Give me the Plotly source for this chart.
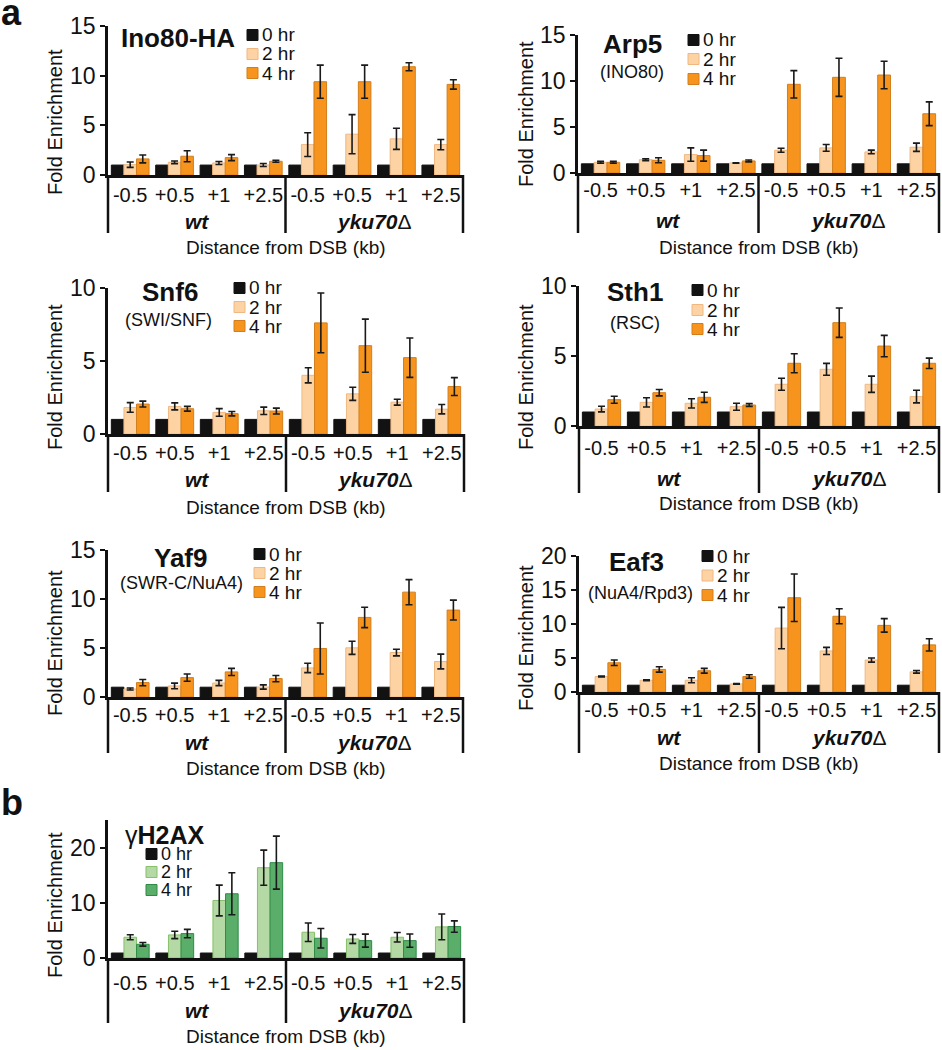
import plotly.graph_objects as go

W, H = 942, 1050
FONT = "Liberation Sans, Arial, Helvetica, sans-serif"
INK = "#111111"

# ---------------- data ----------------
categories = ["-0.5", "+0.5", "+1", "+2.5", "-0.5", "+0.5", "+1", "+2.5"]
category_strain = ["wt", "wt", "wt", "wt", "yku70Δ", "yku70Δ", "yku70Δ", "yku70Δ"]
strain_names = ["wt", "yku70Δ"]
time_labels = ["0 hr", "2 hr", "4 hr"]
x_title = "Distance from DSB (kb)"
y_title = "Fold Enrichment"

ino80_0hr = [1, 1, 1, 1, 1, 1, 1, 1]
ino80_2hr = [1.04, 1.28, 1.21, 1.01, 3.06, 4.11, 3.64, 3.06]
ino80_2hr_err = [0.27, 0.13, 0.15, 0.15, 1.2, 1.97, 1.06, 0.52]
ino80_4hr = [1.62, 1.89, 1.75, 1.38, 9.39, 9.39, 10.9, 9.12]
ino80_4hr_err = [0.4, 0.55, 0.3, 0.1, 1.67, 1.67, 0.4, 0.47]

arp5_0hr = [1, 1, 1, 1, 1, 1, 1, 1]
arp5_2hr = [1.16, 1.45, 2.0, 1.09, 2.47, 2.73, 2.29, 2.8]
arp5_2hr_err = [0.1, 0.1, 0.73, 0.03, 0.22, 0.36, 0.2, 0.45]
arp5_4hr = [1.16, 1.38, 1.89, 1.31, 9.64, 10.4, 10.65, 6.44]
arp5_4hr_err = [0.1, 0.27, 0.6, 0.1, 1.49, 2.07, 1.49, 1.29]

snf6_0hr = [1, 1, 1, 1, 1, 1, 1, 1]
snf6_2hr = [1.82, 1.89, 1.48, 1.59, 4.02, 2.75, 2.18, 1.7]
snf6_2hr_err = [0.33, 0.24, 0.26, 0.25, 0.52, 0.45, 0.2, 0.32]
snf6_4hr = [2.05, 1.73, 1.39, 1.57, 7.61, 6.05, 5.23, 3.25]
snf6_4hr_err = [0.2, 0.16, 0.15, 0.2, 2.05, 1.82, 1.35, 0.61]

sth1_0hr = [1, 1, 1, 1, 1, 1, 1, 1]
sth1_2hr = [1.21, 1.69, 1.62, 1.38, 2.98, 4.05, 2.98, 2.1]
sth1_2hr_err = [0.2, 0.33, 0.33, 0.25, 0.43, 0.42, 0.58, 0.45]
sth1_4hr = [1.88, 2.38, 2.05, 1.5, 4.48, 7.38, 5.71, 4.48]
sth1_4hr_err = [0.25, 0.23, 0.36, 0.1, 0.68, 1.05, 0.76, 0.37]

yaf9_0hr = [1, 1, 1, 1, 1, 1, 1, 1]
yaf9_2hr = [0.82, 1.13, 1.43, 1.02, 2.97, 5.02, 4.54, 3.62]
yaf9_2hr_err = [0.1, 0.29, 0.27, 0.22, 0.48, 0.67, 0.34, 0.75]
yaf9_4hr = [1.47, 1.98, 2.56, 1.88, 4.95, 8.12, 10.7, 8.87]
yaf9_4hr_err = [0.32, 0.37, 0.36, 0.32, 2.6, 1.04, 1.28, 1.02]

eaf3_0hr = [1, 1, 1, 1, 1, 1, 1, 1]
eaf3_2hr = [2.28, 1.73, 1.73, 1.19, 9.4, 6.04, 4.7, 2.97]
eaf3_2hr_err = [0.05, 0.05, 0.37, 0.05, 3.05, 0.52, 0.3, 0.2]
eaf3_4hr = [4.3, 3.32, 3.12, 2.28, 13.86, 11.14, 9.8, 6.93]
eaf3_4hr_err = [0.4, 0.4, 0.35, 0.25, 3.5, 1.11, 0.99, 0.89]

h2ax_0hr = [0.9, 0.9, 0.9, 0.9, 0.9, 0.9, 0.9, 0.9]
h2ax_2hr = [3.76, 4.18, 10.42, 16.36, 4.67, 3.45, 3.76, 5.64]
h2ax_2hr_err = [0.45, 0.67, 2.79, 3.18, 1.67, 0.8, 0.85, 2.33]
h2ax_4hr = [2.48, 4.42, 11.64, 17.27, 3.58, 3.15, 3.15, 5.7]
h2ax_4hr_err = [0.33, 0.76, 3.8, 4.8, 1.76, 1.18, 1.21, 1.03]

# ---------------- styling ----------------
palettes = {
    "orange": (["#121212", "#fdd3a3", "#f7941e"], ["#121212", "#efb883", "#d27e1c"]),
    "green": (["#121212", "#b5d9a4", "#5aae69"], ["#121212", "#86c06a", "#2e8b47"]),
}

# layout spec per panel (pixel geometry)
panels = [
    dict(title="<b>Ino80-HA</b>", sub=None,
         series=(ino80_0hr, ino80_2hr, ino80_2hr_err, ino80_4hr, ino80_4hr_err),
         pal="orange", ymax=15, dtick=5, box=(108, 463, 175, 26), bottom=233,
         tick_c=193.5, group_c=221, dist_c=247, fold=(55, 122),
         title_xy=(177.5, 38), sub_xy=None, leg=(247, (35, 54, 73)), leg_font=19),
    dict(title="<b>Arp5</b>", sub="(INO80)",
         series=(arp5_0hr, arp5_2hr, arp5_2hr_err, arp5_4hr, arp5_4hr_err),
         pal="orange", ymax=15, dtick=5, box=(578, 939, 173, 35), bottom=233,
         tick_c=189, group_c=220, dist_c=247, fold=(526, 114),
         title_xy=(632.5, 44), sub_xy=(632, 72), leg=(688, (40, 59, 79)), leg_font=19),
    dict(title="<b>Snf6</b>", sub="(SWI/SNF)",
         series=(snf6_0hr, snf6_2hr, snf6_2hr_err, snf6_4hr, snf6_4hr_err),
         pal="orange", ymax=10, dtick=5, box=(108, 464, 434, 288), bottom=492,
         tick_c=452, group_c=480, dist_c=507, fold=(55, 377),
         title_xy=(169.5, 292), sub_xy=(168.5, 320), leg=(234, (288, 307, 326)), leg_font=19),
    dict(title="<b>Sth1</b>", sub="(RSC)",
         series=(sth1_0hr, sth1_2hr, sth1_2hr_err, sth1_4hr, sth1_4hr_err),
         pal="orange", ymax=10, dtick=5, box=(579, 939, 426, 286), bottom=493,
         tick_c=447, group_c=478, dist_c=503, fold=(526, 377),
         title_xy=(635, 292), sub_xy=(635, 323), leg=(692, (290, 310, 329)), leg_font=19),
    dict(title="<b>Yaf9</b>", sub="(SWR-C/NuA4)",
         series=(yaf9_0hr, yaf9_2hr, yaf9_2hr_err, yaf9_4hr, yaf9_4hr_err),
         pal="orange", ymax=15, dtick=5, box=(108, 463, 697, 550), bottom=753,
         tick_c=714, group_c=742, dist_c=768, fold=(55, 643),
         title_xy=(180.5, 558), sub_xy=(181, 583), leg=(254, (554, 573, 592)), leg_font=19),
    dict(title="<b>Eaf3</b>", sub="(NuA4/Rpd3)",
         series=(eaf3_0hr, eaf3_2hr, eaf3_2hr_err, eaf3_4hr, eaf3_4hr_err),
         pal="orange", ymax=20, dtick=5, box=(579, 939, 692, 556), bottom=753,
         tick_c=709, group_c=737, dist_c=763, fold=(526, 638),
         title_xy=(636, 562), sub_xy=(640, 593), leg=(702, (556, 575.5, 595)), leg_font=19),
    dict(title="γ<b>H2AX</b>", sub=None,
         series=(h2ax_0hr, h2ax_2hr, h2ax_2hr_err, h2ax_4hr, h2ax_4hr_err),
         pal="green", ymax=25, dtick=10, box=(108, 464, 958, 820), bottom=1023,
         tick_c=982, group_c=1010, dist_c=1036, fold=(55, 905),
         title_xy=(165, 835), sub_xy=None, leg=(146, (854, 872, 890)), leg_font=18),
]


def px(xp):
    return xp / W


def py(yp):
    return 1 - yp / H


fig = go.Figure()
annotations = []
shapes = []
layout_axes = {}

x_pos = list(range(len(categories)))
n_cat = len(categories)

for i, p in enumerate(panels, start=1):
    xref = "x" if i == 1 else f"x{i}"
    yref = "y" if i == 1 else f"y{i}"
    xkey = "xaxis" if i == 1 else f"xaxis{i}"
    ykey = "yaxis" if i == 1 else f"yaxis{i}"
    s0, s2, s2e, s4, s4e = p["series"]
    fills, lines = palettes[p["pal"]]
    for vals, err, fill, line, name in zip((s0, s2, s4), (None, s2e, s4e), fills, lines, time_labels):
        fig.add_trace(go.Bar(
            x=x_pos, y=vals, xaxis=xref, yaxis=yref, name=name, showlegend=False,
            marker=dict(color=fill, line=dict(color=line, width=1)),
            error_y=(dict(type="data", array=err, color="#1a1a1a", thickness=1.6, width=3.5)
                     if err is not None else dict(visible=False)),
        ))

    x0, x1, y0, ytop = p["box"]
    fs_tick = 20
    standoff = int(round((p["tick_c"] - y0) - 19))
    layout_axes[xkey] = dict(
        domain=[px(x0), px(x1)], anchor=yref, range=[-0.5, n_cat - 0.5],
        tickmode="array", tickvals=x_pos, ticktext=categories, automargin=False,
        showline=True, linewidth=2.8, linecolor=INK, ticks="", showgrid=False,
        zeroline=False, fixedrange=True, ticklabelstandoff=standoff,
        tickfont=dict(family=FONT, size=fs_tick, color=INK),
    )
    layout_axes[ykey] = dict(
        domain=[py(y0), py(ytop)], anchor=xref, range=[0, p["ymax"]], automargin=False,
        tick0=0, dtick=p["dtick"], showline=True, linewidth=2.5, linecolor=INK,
        ticks="outside", ticklen=5, tickwidth=2, tickcolor=INK, showgrid=False,
        zeroline=False, fixedrange=True,
        tickfont=dict(family=FONT, size=23, color=INK),
    )

    def xdata_to_paper(xd):
        return px(x0) + (xd + 0.5) / n_cat * (px(x1) - px(x0))

    # dividers below the axis (left, between strains, right)
    div_positions = [-0.5]
    for k in range(1, n_cat):
        if category_strain[k] != category_strain[k - 1]:
            div_positions.append(k - 0.5)
    div_positions.append(n_cat - 0.5)
    for xd in div_positions:
        xp = xdata_to_paper(xd)
        shapes.append(dict(type="line", xref="paper", yref="paper", x0=xp, x1=xp,
                           y0=py(y0), y1=py(p["bottom"]), line=dict(color=INK, width=2.5)))

    # strain group labels
    for strain in strain_names:
        idx = [k for k, s in enumerate(category_strain) if s == strain]
        center = sum(idx) / len(idx)
        if strain == "wt":
            label = "<b><i>wt</i></b>"
        else:
            label = "<b><i>" + strain[:-1] + "</i></b>" + strain[-1]
        annotations.append(dict(x=xdata_to_paper(center), y=py(p["group_c"]), xref="paper", yref="paper",
                                text=label, showarrow=False, xanchor="center", yanchor="middle",
                                font=dict(family=FONT, size=21, color=INK)))

    # x title
    annotations.append(dict(x=(px(x0) + px(x1)) / 2, y=py(p["dist_c"]), xref="paper", yref="paper",
                            text=x_title, showarrow=False, xanchor="center", yanchor="middle",
                            font=dict(family=FONT, size=19, color=INK)))
    # y title
    annotations.append(dict(x=px(p["fold"][0]), y=py(p["fold"][1]), xref="paper", yref="paper",
                            text=y_title, showarrow=False, textangle=-90, xanchor="center", yanchor="middle",
                            font=dict(family=FONT, size=20, color=INK)))
    # panel title
    annotations.append(dict(x=px(p["title_xy"][0]), y=py(p["title_xy"][1]), xref="paper", yref="paper",
                            text=p["title"], showarrow=False, xanchor="center", yanchor="middle",
                            font=dict(family=FONT, size=26 if i < 7 else 25, color=INK)))
    if p["sub"]:
        annotations.append(dict(x=px(p["sub_xy"][0]), y=py(p["sub_xy"][1]), xref="paper", yref="paper",
                                text=p["sub"], showarrow=False, xanchor="center", yanchor="middle",
                                font=dict(family=FONT, size=18, color=INK)))
    # legend (manual)
    lx, rows = p["leg"]
    sq = 11
    for label, fill, line, ry in zip(time_labels, fills, lines, rows):
        shapes.append(dict(type="rect", xref="paper", yref="paper",
                           x0=px(lx), x1=px(lx + sq), y0=py(ry + sq / 2), y1=py(ry - sq / 2),
                           fillcolor=fill, line=dict(color=line, width=1)))
        annotations.append(dict(x=px(lx + sq + 2), y=py(ry), xref="paper", yref="paper",
                                text=label, showarrow=False, xanchor="left", yanchor="middle",
                                font=dict(family=FONT, size=p["leg_font"], color=INK)))

# panel letters
annotations.append(dict(x=px(11), y=py(12), xref="paper", yref="paper", text="<b>a</b>",
                        showarrow=False, xanchor="center", yanchor="middle",
                        font=dict(family=FONT, size=36, color=INK)))
annotations.append(dict(x=px(12), y=py(802), xref="paper", yref="paper", text="<b>b</b>",
                        showarrow=False, xanchor="center", yanchor="middle",
                        font=dict(family=FONT, size=36, color=INK)))

fig.update_layout(
    width=W, height=H, margin=dict(l=0, r=0, t=0, b=0, pad=0, autoexpand=False),
    paper_bgcolor="white", plot_bgcolor="white",
    barmode="group", bargap=0.15, bargroupgap=0,
    showlegend=False, font=dict(family=FONT, color=INK),
    annotations=annotations, shapes=shapes,
    **layout_axes,
)

fig.write_html(
    "out.html",
    config={"displayModeBar": False},
    post_script="document.body.style.margin='0';document.body.style.overflow='hidden';",
)
